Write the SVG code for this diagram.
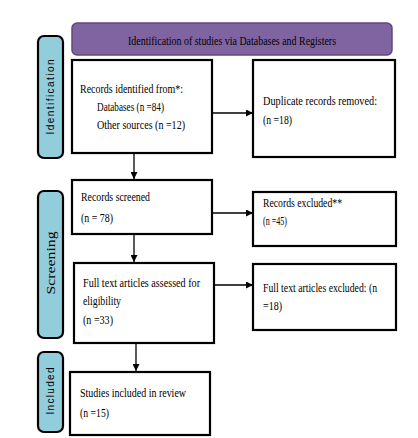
<svg xmlns="http://www.w3.org/2000/svg" width="418" height="438" viewBox="0 0 418 438">
<defs>
<marker id="ah" viewBox="0 0 10 10" refX="10" refY="5" markerWidth="7" markerHeight="7" markerUnits="userSpaceOnUse" orient="auto">
<path d="M0,0 L10,5 L0,10 z" fill="#000"/>
</marker>
<style>
.box{fill:#fff;stroke:#000;stroke-width:2.2}
.bar{fill:#92CDDC;stroke:#000;stroke-width:2.2}
.t{font-family:"Liberation Serif","Times New Roman",serif;font-size:13px;fill:#000}
.side{font-family:"Liberation Sans",Arial,sans-serif;font-size:10px;fill:#000}
.sides{font-family:"Liberation Serif","Times New Roman",serif;font-size:11.5px;fill:#000}
.c{stroke:#000;stroke-width:1.3;fill:none}
</style>
</defs>
<rect width="418" height="438" fill="#fff"/>
<g id="banner">
<rect x="72" y="23" width="320" height="32" rx="5" fill="#8064A2" stroke="#5F497A" stroke-width="1.5"/>
<text class="t" x="128" y="45" textLength="208" lengthAdjust="spacingAndGlyphs">Identification of studies via Databases and Registers</text>
</g>
<g id="bar-identification">
<rect class="bar" x="38" y="36" width="25" height="122" rx="6"/>
<text class="side" transform="translate(54,97) rotate(-90)" text-anchor="middle" textLength="75" lengthAdjust="spacing">Identification</text>
</g>
<g id="bar-screening">
<rect class="bar" x="38" y="191" width="25" height="147" rx="6"/>
<text class="sides" transform="translate(55,263) rotate(-90)" text-anchor="middle" textLength="63" lengthAdjust="spacingAndGlyphs">Screening</text>
</g>
<g id="bar-included">
<rect class="bar" x="38" y="352" width="25" height="80" rx="6"/>
<text class="side" transform="translate(54,391) rotate(-90)" text-anchor="middle" textLength="47" lengthAdjust="spacing">Included</text>
</g>
<g id="n-identified">
<rect class="box" x="72" y="60" width="140" height="93"/>
<text class="t" x="80" y="93" textLength="103" lengthAdjust="spacingAndGlyphs">Records identified from*:</text>
<text class="t" x="97" y="111" textLength="67" lengthAdjust="spacingAndGlyphs">Databases (n =84)</text>
<text class="t" x="97" y="129" textLength="88" lengthAdjust="spacingAndGlyphs">Other sources (n =12)</text>
</g>
<g id="n-duplicates">
<rect class="box" x="253" y="60" width="142" height="97"/>
<text class="t" x="263" y="105" textLength="114" lengthAdjust="spacingAndGlyphs">Duplicate records removed:</text>
<text class="t" x="263" y="124" textLength="29" lengthAdjust="spacingAndGlyphs">(n =18)</text>
</g>
<g id="n-screened">
<rect class="box" x="72" y="180" width="140" height="54"/>
<text class="t" x="81" y="201" textLength="69" lengthAdjust="spacingAndGlyphs">Records screened</text>
<text class="t" x="81" y="222" textLength="32" lengthAdjust="spacingAndGlyphs">(n = 78)</text>
</g>
<g id="n-excluded">
<rect class="box" x="253" y="192" width="143" height="54"/>
<text class="t" x="263" y="207" textLength="79" lengthAdjust="spacingAndGlyphs">Records excluded**</text>
<text class="t" x="263" y="225" textLength="24" lengthAdjust="spacingAndGlyphs">(n =45)</text>
</g>
<g id="n-fulltext">
<rect class="box" x="74" y="263" width="140" height="80"/>
<text class="t" x="83" y="287" textLength="117" lengthAdjust="spacingAndGlyphs">Full text articles assessed for</text>
<text class="t" x="83" y="305" textLength="38" lengthAdjust="spacingAndGlyphs">eligibility</text>
<text class="t" x="83" y="324" textLength="30" lengthAdjust="spacingAndGlyphs">(n =33)</text>
</g>
<g id="n-ft-excluded">
<rect class="box" x="253" y="264" width="143" height="66"/>
<text class="t" x="263" y="292" textLength="114" lengthAdjust="spacingAndGlyphs">Full text articles excluded: (n</text>
<text class="t" x="263" y="310" textLength="19" lengthAdjust="spacingAndGlyphs">=18)</text>
</g>
<g id="n-included">
<rect class="box" x="70" y="372" width="140" height="63"/>
<text class="t" x="80" y="397" textLength="106" lengthAdjust="spacingAndGlyphs">Studies included in review</text>
<text class="t" x="80" y="417" textLength="29" lengthAdjust="spacingAndGlyphs">(n =15)</text>
</g>
<g id="connectors">
<line class="c" x1="212" y1="113" x2="253" y2="113" marker-end="url(#ah)"/>
<line class="c" x1="134" y1="153" x2="134" y2="179" marker-end="url(#ah)"/>
<line class="c" x1="212" y1="213" x2="253" y2="213" marker-end="url(#ah)"/>
<line class="c" x1="134" y1="234" x2="134" y2="262" marker-end="url(#ah)"/>
<line class="c" x1="214" y1="285" x2="253" y2="285" marker-end="url(#ah)"/>
<line class="c" x1="136" y1="343" x2="136" y2="371" marker-end="url(#ah)"/>
</g>
</svg>
